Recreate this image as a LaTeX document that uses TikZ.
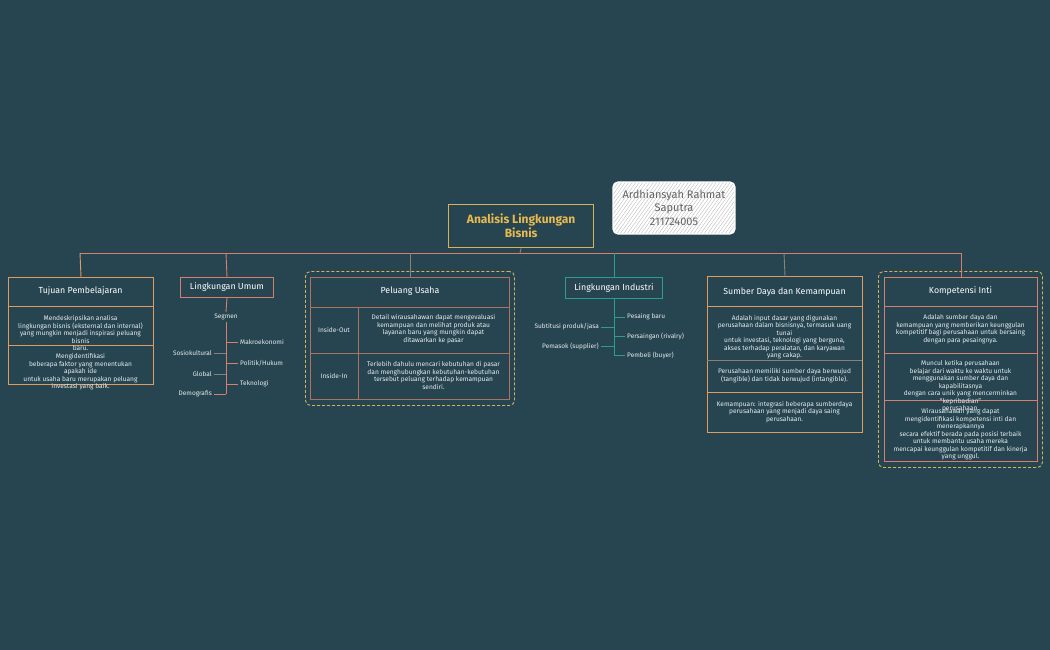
\documentclass[tikz,border=0pt]{standalone}
\usepackage{fontspec}
\setmainfont{Fira Sans}
\definecolor{bg}{RGB}{38,69,81}
\definecolor{gold}{RGB}{214,178,90}
\definecolor{goldtxt}{RGB}{232,186,80}
\definecolor{orng}{RGB}{224,156,96}
\definecolor{salm}{RGB}{212,128,108}
\definecolor{brwn}{RGB}{170,116,96}
\definecolor{tealc}{RGB}{42,157,143}
\definecolor{grayl}{RGB}{140,128,120}
\definecolor{txtw}{RGB}{232,236,236}
\definecolor{namegray}{RGB}{100,100,100}
\begin{document}
\begin{tikzpicture}[x=1pt,y=-1pt,
  boxs/.style={draw=#1, line width=1pt, inner sep=0pt, anchor=north west},
  dashbox/.style={draw=gold, dashed, dash pattern=on 3pt off 2pt, line width=0.9pt, rounded corners=5pt, inner sep=0pt, anchor=north west},
  small/.style={text=txtw, font=\fontsize{6.6}{7.5}\selectfont, align=center, inner sep=0pt},
  hdr/.style={text=white, font=\fontsize{8.8}{10}\selectfont, inner sep=0pt},
  leaf/.style={text=txtw, font=\fontsize{6.5}{7}\selectfont, inner sep=2pt},
  conn/.style={draw=#1, line width=0.9pt},
]
\useasboundingbox (0,0) rectangle (1050,650);
\fill[bg] (0,0) rectangle (1050,650);

% central node
\node[boxs=gold, line width=1.3pt, minimum width=145pt, minimum height=43pt] (central) at (448,204) {};
\node[text=goldtxt, font=\bfseries\fontsize{12}{14}\selectfont, align=center, inner sep=0pt] (title) at (central.center) {Analisis Lingkungan\\Bisnis};

% name node (hatched)
\begin{scope}
  \clip[rounded corners=5pt] (613,182) rectangle (735,234);
  \fill[white] (613,182) rectangle (735,234);
  \foreach \i in {0,3.5,...,180} {
    \draw[gray!55, line width=0.35pt] (613+\i-40,236) -- (613+\i,180);
  }
\end{scope}
\draw[white, line width=1.2pt, rounded corners=5pt] (613,182) rectangle (735,234);
\node[text=namegray, font=\fontsize{11}{13.5}\selectfont, align=center, inner sep=0pt] (name) at (674,207.5) {Ardhiansyah Rahmat\\Saputra\\211724005};

% bus
\coordinate (hub) at (520,253);
\coordinate (b1) at (80,253);
\coordinate (b2) at (226,253);
\coordinate (b3) at (410,253);
\coordinate (b4) at (614,253);
\coordinate (b5) at (784,253);
\coordinate (b6) at (961,253);
\draw[conn=grayl] (central.south) -- (hub);
\draw[conn=salm] (b1) -- (b6);

% ---------- Tujuan Pembelajaran ----------
\node[boxs=orng, minimum width=145pt, minimum height=107pt] (tujuan) at (8,277) {};
\draw[conn=orng] (b1) -- (tujuan.north);
\draw[orng, line width=1pt] (8,306) -- (153,306);
\draw[orng, line width=1pt] (8,345) -- (153,345);
\node[hdr] (tujuanh) at (80.5,291) {Tujuan Pembelajaran};
\node[small] (tujuan1) at (80.5,333) {Mendeskripsikan analisa\\lingkungan bisnis (eksternal dan internal)\\yang mungkin menjadi inspirasi peluang\\bisnis\\baru.};
\node[small] (tujuan2) at (80.5,372) {Mengidentifikasi\\beberapa faktor yang menentukan\\apakah ide\\untuk usaha baru merupakan peluang\\investasi yang baik.};

% ---------- Lingkungan Umum ----------
\node[boxs=salm, minimum width=93pt, minimum height=20pt] (umum) at (180,277) {};
\node[hdr] (umumh) at (umum.center) {Lingkungan Umum};
\draw[conn=salm] (b2) -- (umum.north);
\node[leaf] (segmen) at (226,317) {Segmen};
\draw[conn=salm] (umum.south) -- (segmen.north);
\node[leaf, anchor=west] (makro) at (238,342) {Makroekonomi};
\node[leaf, anchor=west] (politik) at (238,363) {Politik/Hukum};
\node[leaf, anchor=west] (tekno) at (238,384) {Teknologi};
\node[leaf, anchor=east] (sosio) at (214,353) {Sosiokultural};
\node[leaf, anchor=east] (global) at (214,374) {Global};
\node[leaf, anchor=east] (demo) at (214,394) {Demografis};
\draw[conn=salm] (segmen.south) -- (segmen.south |- demo.east);
\draw[conn=salm] (segmen.south |- makro.west) -- (makro.west);
\draw[conn=salm] (segmen.south |- politik.west) -- (politik.west);
\draw[conn=salm] (segmen.south |- tekno.west) -- (tekno.west);
\draw[conn=grayl] (sosio.east) -- (segmen.south |- sosio.east);
\draw[conn=grayl] (global.east) -- (segmen.south |- global.east);
\draw[conn=salm] (demo.east) -- (segmen.south |- demo.east);

% ---------- Peluang Usaha ----------
\node[dashbox, minimum width=209pt, minimum height=134pt] (peluangout) at (305,271) {};
\node[boxs=brwn, minimum width=199pt, minimum height=122pt] (peluang) at (310,277) {};
\draw[conn=grayl] (b3) -- (peluang.north);
\draw[brwn, line width=1pt] (310,307) -- (509,307);
\draw[brwn, line width=1pt] (310,353) -- (509,353);
\draw[brwn, line width=1pt] (358,307) -- (358,399);
\node[hdr] (peluangh) at (410,291) {Peluang Usaha};
\node[small] (io) at (334,330) {Inside-Out};
\node[small] (iot) at (433.5,329) {Detail wirausahawan dapat mengevaluasi\\kemampuan dan melihat produk atau\\layanan baru yang mungkin dapat\\ditawarkan ke pasar};
\node[small] (ii) at (334,376) {Inside-In};
\node[small] (iit) at (433.5,375.5) {Terlebih dahulu mencari kebutuhan di pasar\\dan menghubungkan kebutuhan-kebutuhan\\tersebut peluang terhadap kemampuan\\sendiri.};

% ---------- Lingkungan Industri ----------
\node[boxs=tealc, minimum width=97pt, minimum height=21pt] (industri) at (565,277) {};
\node[hdr] (industrih) at (industri.center) {Lingkungan Industri};
\draw[conn=tealc] (b4) -- (industri.north);
\node[leaf, anchor=west] (pesaing) at (625,317) {Pesaing baru};
\node[leaf, anchor=west] (rival) at (625,336) {Persaingan (rivalry)};
\node[leaf, anchor=west] (pembeli) at (625,355) {Pembeli (buyer)};
\node[leaf, anchor=east] (subst) at (601,327) {Subtitusi produk/jasa};
\node[leaf, anchor=east] (pemasok) at (601,346) {Pemasok (supplier)};
\draw[conn=tealc] (industri.south) -- (industri.south |- pembeli.west);
\draw[conn=tealc] (industri.south |- pesaing.west) -- (pesaing.west);
\draw[conn=tealc] (industri.south |- rival.west) -- (rival.west);
\draw[conn=tealc] (industri.south |- pembeli.west) -- (pembeli.west);
\draw[conn=tealc] (subst.east) -- (industri.south |- subst.east);
\draw[conn=tealc] (pemasok.east) -- (industri.south |- pemasok.east);

% ---------- Sumber Daya dan Kemampuan ----------
\node[boxs=orng, minimum width=155pt, minimum height=156pt] (sumber) at (707,276) {};
\draw[conn=grayl] (b5) -- (sumber.north);
\draw[orng, line width=1pt] (707,306) -- (862,306);
\draw[grayl, line width=1pt] (707,360) -- (862,360);
\draw[orng, line width=1pt] (707,392) -- (862,392);
\node[hdr] (sumberh) at (784.5,292) {Sumber Daya dan Kemampuan};
\node[small] (sumber1) at (784.5,337) {Adalah input dasar yang digunakan\\perusahaan dalam bisnisnya, termasuk uang\\tunai\\untuk investasi, teknologi yang berguna,\\akses terhadap peralatan, dan karyawan\\yang cakap.};
\node[small] (sumber2) at (784.5,375.5) {Perusahaan memiliki sumber daya berwujud\\(tangible) dan tidak berwujud (intangible).};
\node[small] (sumber3) at (784.5,412) {Kemampuan: integrasi beberapa sumberdaya\\perusahaan yang menjadi daya saing\\perusahaan.};

% ---------- Kompetensi Inti ----------
\node[dashbox, minimum width=164pt, minimum height=196pt] (kompout) at (878,271) {};
\node[boxs=salm, minimum width=153pt, minimum height=184pt] (komp) at (884,277) {};
\draw[conn=salm] (b6) -- (komp.north);
\draw[salm, line width=1pt] (884,306) -- (1037,306);
\draw[salm, line width=1pt] (884,353) -- (1037,353);
\draw[salm, line width=1pt] (884,400) -- (1037,400);
\node[hdr] (komph) at (960.5,291) {Kompetensi Inti};
\node[small] (komp1) at (960.5,329) {Adalah sumber daya dan\\kemampuan yang memberikan keunggulan\\kompetitif bagi perusahaan untuk bersaing\\dengan para pesaingnya.};
\node[small] (komp2) at (960.5,386.5) {Muncul ketika perusahaan\\belajar dari waktu ke waktu untuk\\menggunakan sumber daya dan\\kapabilitasnya\\dengan cara unik yang mencerminkan\\``kepribadian''\\perusahaan.};
\node[small] (komp3) at (960.5,434.5) {Wirausahawan yang dapat\\mengidentifikasi kompetensi inti dan\\menerapkannya\\secara efektif berada pada posisi terbaik\\untuk membantu usaha mereka\\mencapai keunggulan kompetitif dan kinerja\\yang unggul.};
\end{tikzpicture}
\end{document}
